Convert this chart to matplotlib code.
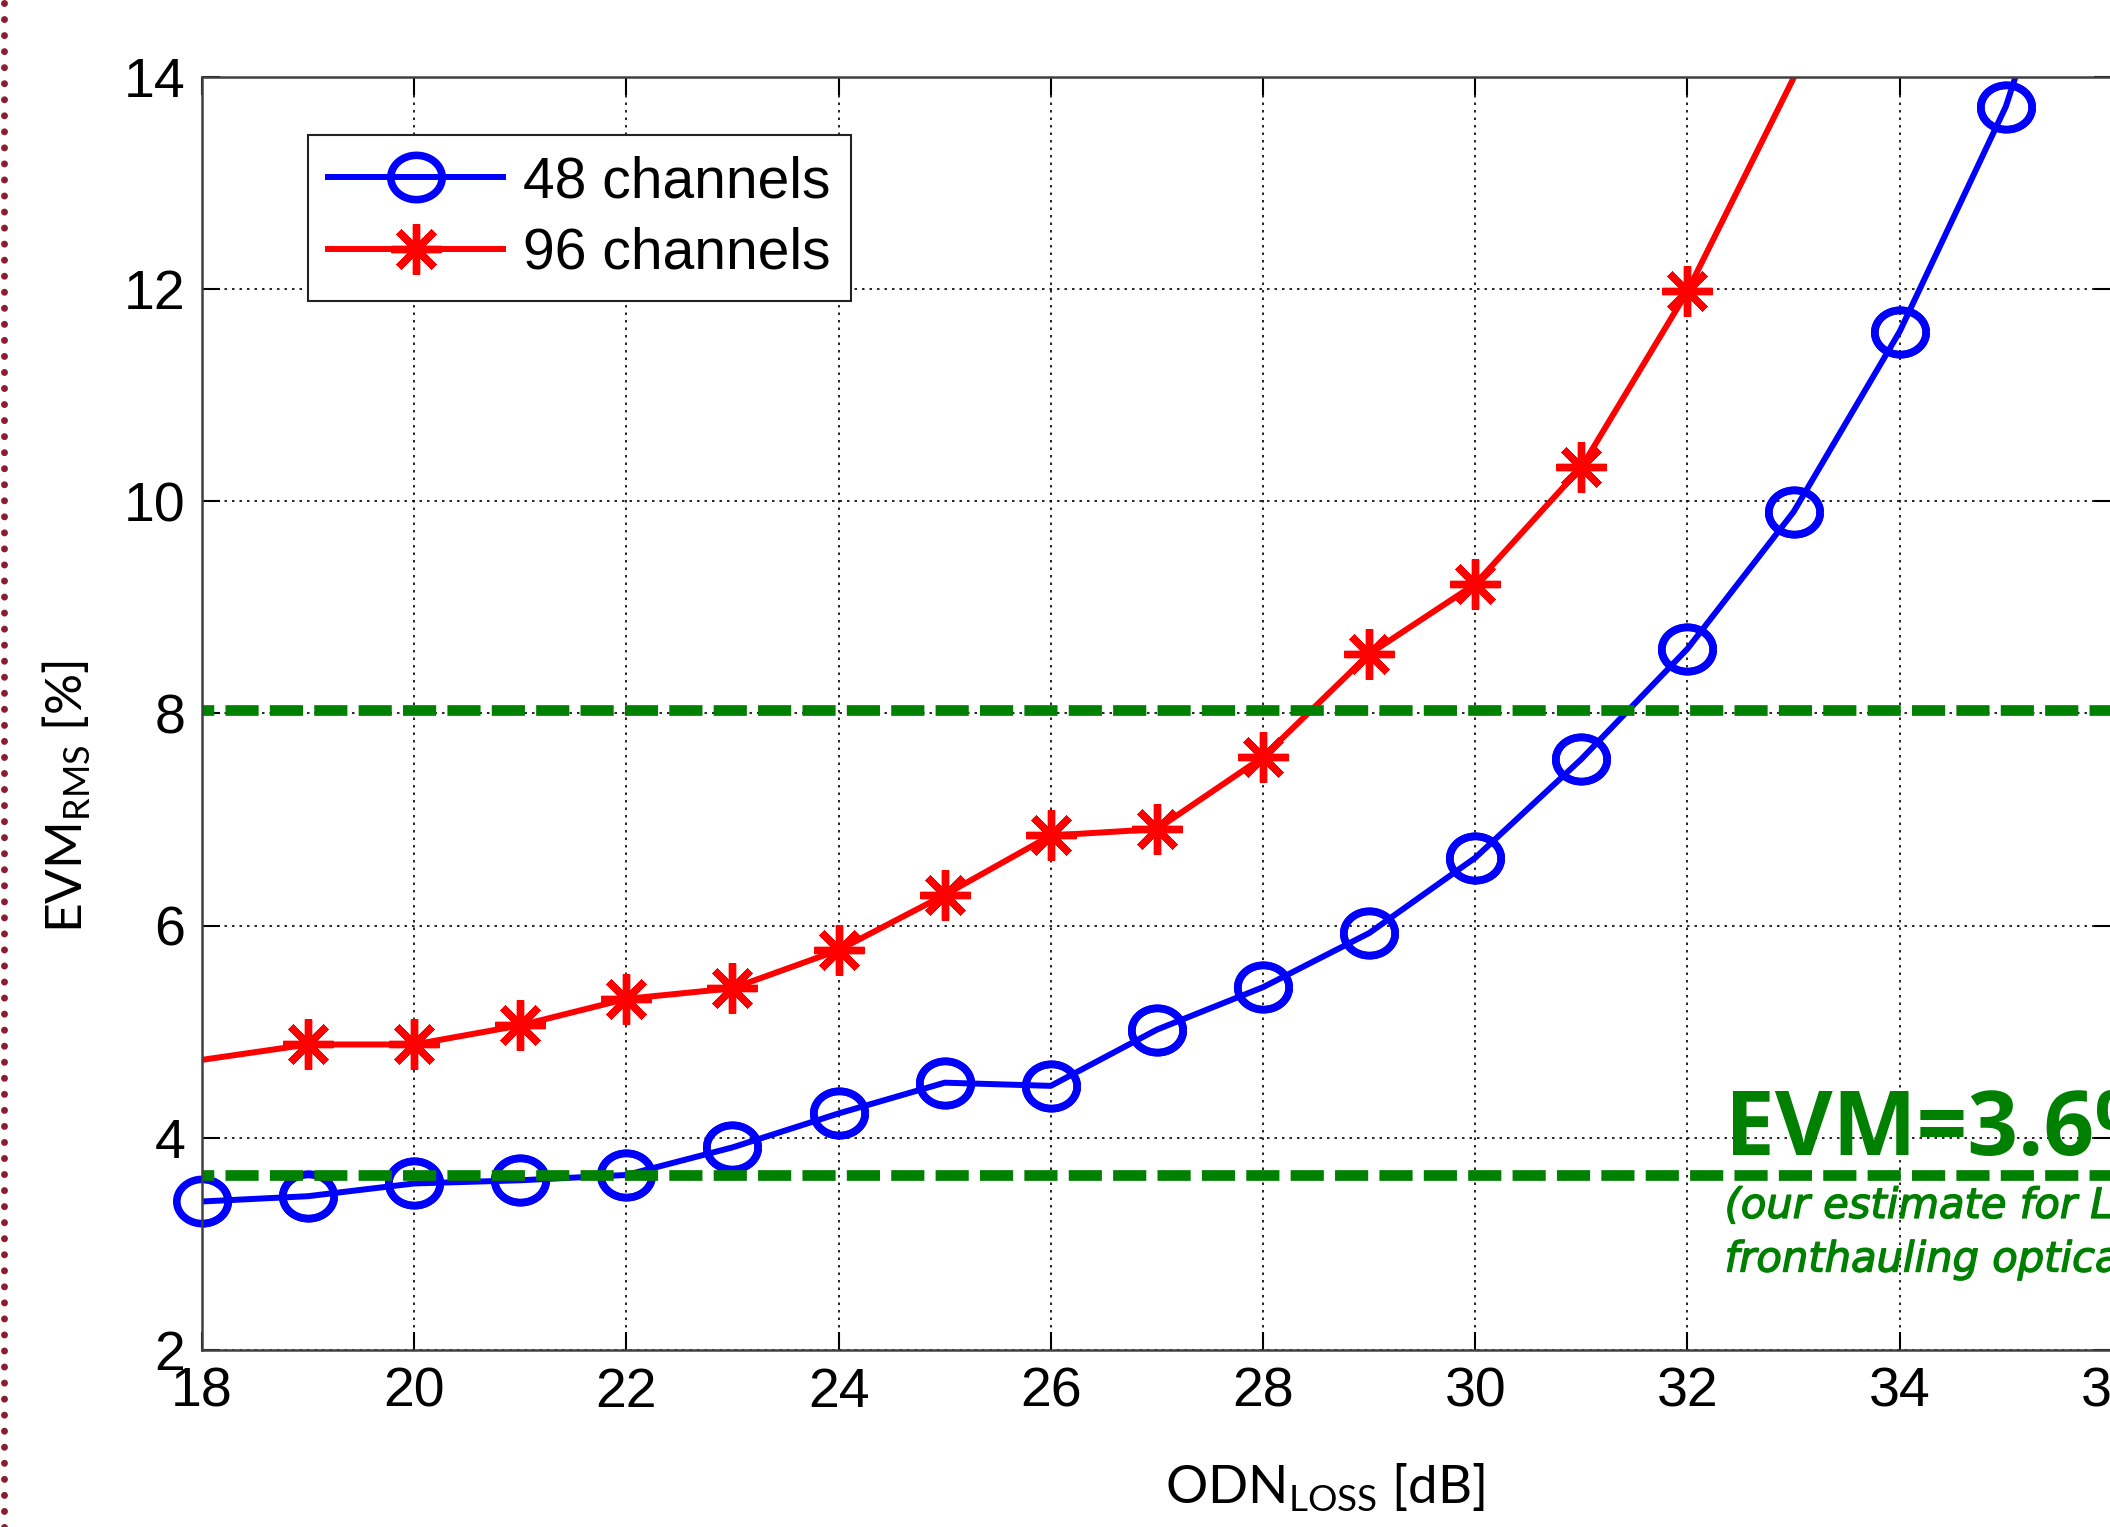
import numpy as np
import matplotlib.pyplot as plt
import matplotlib.patheffects as pe
from matplotlib.path import Path
from matplotlib.lines import Line2D

# values
odn_48 = [18, 19, 20, 21, 22, 23, 24, 25, 26, 27, 28, 29, 30, 31, 32, 33, 34, 35, 36]
evm_48 = [3.40, 3.45, 3.57, 3.60, 3.65, 3.91, 4.23, 4.52, 4.49, 5.02, 5.42,
          5.93, 6.64, 7.57, 8.61, 9.90, 11.60, 13.72, 16.80]
odn_96 = [17, 19, 20, 21, 22, 23, 24, 25, 26, 27, 28, 29, 30, 31, 32, 34]
evm_96 = [4.59, 4.88, 4.88, 5.06, 5.31, 5.41, 5.77, 6.29, 6.85, 6.91, 7.59,
          8.56, 9.22, 10.32, 11.98, 16.00]
thresholds = [8.03, 3.65]
xticks = list(range(18, 37, 2))
yticks = list(range(2, 15, 2))

fig = plt.figure(figsize=(21.1, 15.27), dpi=100)
ax = fig.add_axes([0.0957, 0.1159, 0.9052, 0.8337])

# slightly stretched circle, like the original
theta = np.linspace(0, 2 * np.pi, 73)
ellipse = Path(np.column_stack([1.16 * np.cos(theta), np.sin(theta)]))

ax.plot(odn_48, evm_48, color='#0000ff', lw=4.3, marker=ellipse, ms=37, mew=5.5,
        mfc='none', label='48 channels')
vis = [(x, y) for x, y in zip(odn_48, evm_48) if y <= 14]
ax.plot([v[0] for v in vis], [v[1] for v in vis], ls='none', marker=ellipse,
        ms=37, mew=5.5, mfc='none', mec='#0000ff', clip_on=False)
ax.plot(odn_96, evm_96, color='#ff0000', lw=4.3, marker=(8, 2, 0), ms=36, mew=5.3,
        label='96 channels')

for thr in thresholds:
    ax.axhline(thr, color='#008000', lw=7.7, ls=(2.0, (3.1, 1.05)))

ax.set_xlim(18, 36)
ax.set_ylim(2, 14)
ax.set_xticks(xticks)
ax.set_yticks(yticks)
ax.grid(True, color='k', ls=(0, (1.5, 3)), lw=1.2)
ax.tick_params(direction='in', length=13, width=1.5, top=True, right=True,
               labelsize=40)
ax.tick_params(axis='x', pad=12)
ax.tick_params(axis='y', pad=12)
for lab in ax.get_xticklabels() + ax.get_yticklabels():
    lab.set_family('Liberation Sans')
for sp in ax.spines.values():
    sp.set_color('#404040')
    sp.set_linewidth(1.8)

leg = ax.legend(loc='upper left', bbox_to_anchor=(0.0555, 0.9545), borderaxespad=0,
                prop={'family': 'Liberation Sans', 'size': 41}, handlelength=3.07,
                handletextpad=0.35, borderpad=0.36, labelspacing=0.3,
                fancybox=False, edgecolor='#222222', framealpha=1, numpoints=1)
leg.get_frame().set_linewidth(1.5)

fig.text(0.628, 0.0157, r'ODN$_{\mathregular{LOSS}}$ [dB]', ha='center', va='baseline',
         fontsize=38, family='Lato')
fig.text(0.0318, 0.478, r'EVM$_{\mathregular{RMS}}$ [%]', ha='center', va='center',
         rotation=90, fontsize=37, family='Lato')

ax.text(32.35, 3.84, 'EVM=3.6%', color='#008000', fontsize=64, weight='bold',
        family='Open Sans', va='baseline', ha='left')
thick = [pe.withStroke(linewidth=1.0, foreground='#008000')]
ax.text(32.35, 3.245, '(our estimate for LTE', color='#008000', fontsize=30,
        style='italic', family='DejaVu Sans', va='baseline', path_effects=thick)
ax.text(32.35, 2.74, 'fronthauling optical link)', color='#008000', fontsize=30,
        style='italic', family='DejaVu Sans', va='baseline', path_effects=thick)

# dotted border at the left edge of the slide
fig.add_artist(Line2D([4 / 2110, 4 / 2110], [0, 1], transform=fig.transFigure,
                      color='#8c1c30', lw=5, ls=(0, (0.01, 2.3)),
                      dash_capstyle='round'))

fig.savefig('out.png', dpi=100)
